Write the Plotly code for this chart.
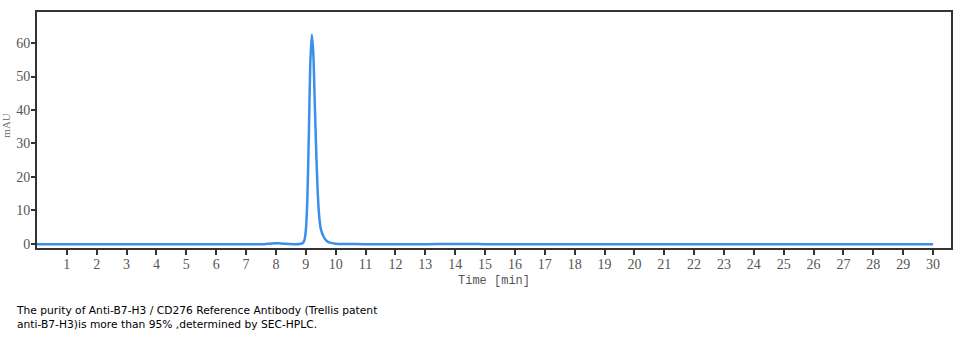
import plotly.graph_objects as go

# Chromatogram trace: retention time (min) and absorbance (mAU)
time_min = [0.0, 1.0, 2.0, 3.0, 4.0, 5.0, 6.0, 7.0, 7.6, 7.8, 8.0, 8.1, 8.3, 8.6, 8.8,
            8.9, 8.95, 9.0, 9.05, 9.1, 9.15, 9.2, 9.25, 9.3, 9.35, 9.4, 9.45, 9.5,
            9.6, 9.7, 9.8, 10.0, 10.3, 11.0, 12.0, 13.0, 14.0, 14.5, 15.0, 16.0,
            17.0, 18.0, 19.0, 20.0, 21.0, 22.0, 23.0, 24.0, 25.0, 26.0, 27.0,
            28.0, 29.0, 30.0]
absorbance = [-0.2, -0.2, -0.2, -0.2, -0.2, -0.2, -0.2, -0.2, -0.15, 0.0, 0.15, 0.1, -0.05, -0.15, -0.1,
              0.2, 1.0, 4.0, 13.0, 32.0, 54.0, 62.5, 57.0, 42.0, 27.0, 15.0, 8.0, 4.5,
              2.0, 0.8, 0.3, 0.0, -0.1, -0.15, -0.2, -0.15, -0.1, -0.1, -0.15, -0.2,
              -0.15, -0.2, -0.2, -0.2, -0.2, -0.15, -0.15, -0.2, -0.2, -0.2, -0.2,
              -0.2, -0.2, -0.2]

x_ticks = list(range(1, 31))
y_ticks = [0, 10, 20, 30, 40, 50, 60]

caption = ("The purity of Anti-B7-H3 / CD276 Reference Antibody (Trellis patent<br>"
           "anti-B7-H3)is more than 95% ,determined by SEC-HPLC.")

fig = go.Figure()
fig.add_trace(go.Scatter(x=time_min, y=absorbance, mode="lines",
                         line=dict(color="#3a8fe8", width=2.5, shape="spline", smoothing=0.6),
                         hoverinfo="skip", showlegend=False))

tick_font = dict(family="Liberation Serif, Times New Roman, serif", size=14, color="#555555")

fig.update_xaxes(range=[0.0, 30.6], tickvals=x_ticks, showline=True, linecolor="#333333",
                 linewidth=2, mirror=True, showgrid=False, zeroline=False, ticks="outside",
                 ticklen=5, tickwidth=2, tickcolor="#333333", tickfont=tick_font,
                 ticklabelstandoff=-3)
fig.update_yaxes(range=[-1.3, 69.3], tickvals=y_ticks, showline=True, linecolor="#333333",
                 linewidth=2, mirror=True, showgrid=False, zeroline=False, ticks="outside",
                 ticklen=4, tickwidth=2, tickcolor="#333333", tickfont=tick_font,
                 ticklabelstandoff=-2)

fig.add_annotation(text="Time [min]", xref="paper", yref="paper", x=0.5, y=-0.14,
                   xanchor="center", yanchor="middle", showarrow=False,
                   font=dict(family="Liberation Mono", size=12, color="#555555"))
fig.add_annotation(text="mAU", xref="paper", yref="paper", x=-0.0335, y=0.52,
                   xanchor="center", yanchor="middle", showarrow=False, textangle=-90,
                   font=dict(family="Liberation Serif", size=11, color="#777777"))
fig.add_annotation(text=caption, xref="paper", yref="paper", x=-0.0252, y=-0.228,
                   xanchor="left", yanchor="top", align="left", showarrow=False,
                   font=dict(family="DejaVu Sans", size=10.7, color="#000000"))

fig.update_layout(width=980, height=341, margin=dict(l=37, r=29, t=10, b=93),
                  paper_bgcolor="white", plot_bgcolor="white")

fig.write_html("out.html")
